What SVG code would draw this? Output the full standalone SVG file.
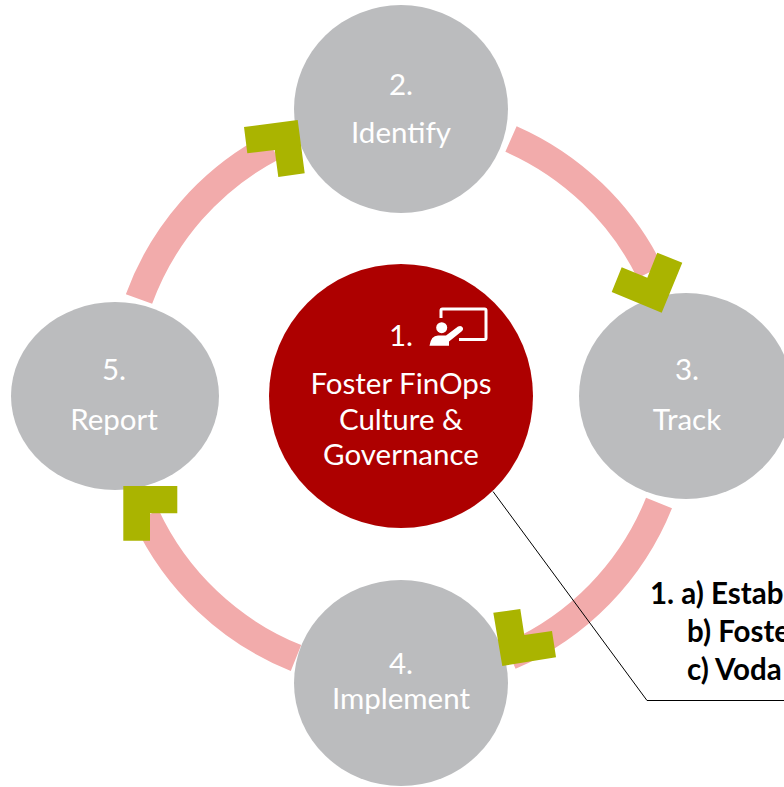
<svg xmlns="http://www.w3.org/2000/svg" width="784" height="787" viewBox="0 0 784 787">
<style>
.ring{fill:none;stroke:#F2ABAB;stroke-width:28}
.head{fill:#AAB400}
.gray{fill:#BBBCBE}
.t{font-family:"Lato","Open Sans",sans-serif;font-size:29.500px;fill:#fff;text-anchor:middle}
.b{font-family:"Lato","Open Sans",sans-serif;font-size:29.500px;font-weight:700;fill:#000}
</style>
<rect width="784" height="787" fill="#fff"/>
<g id="connectors">
<path class="ring" d="M511 139A281 281 0 0 1 650 272"/>
<path class="ring" d="M659 503A281 281 0 0 1 510 656"/>
<path class="ring" d="M296 658A281 281 0 0 1 146 516"/>
<path class="ring" d="M139 299A281 281 0 0 1 272 147"/>
</g>
<g id="node-2"><ellipse class="gray" cx="401" cy="109" rx="107" ry="104"/><text class="t" x="401" y="95">2.</text><text class="t" x="401" y="143">Identify</text></g>
<g id="node-3"><ellipse class="gray" cx="686" cy="396" rx="107" ry="103"/><text class="t" x="687" y="380">3.</text><text class="t" x="687" y="430">Track</text></g>
<g id="node-4"><ellipse class="gray" cx="401" cy="683" rx="107" ry="103"/><text class="t" x="401" y="674">4.</text><text class="t" x="401" y="709">Implement</text></g>
<g id="node-5"><ellipse class="gray" cx="115" cy="396" rx="104" ry="94"/><text class="t" x="114" y="380">5.</text><text class="t" x="114" y="430">Report</text></g>
<g id="node-1"><circle cx="401" cy="396" r="132" fill="#AD0000"/>
<text class="t" x="401" y="346">1.</text><text class="t" x="401" y="394">Foster FinOps</text><text class="t" x="401" y="430">Culture &amp;</text><text class="t" x="401" y="465">Governance</text>
<path d="M441 318V310.500Q441 309 442.500 309H484.500Q486 309 486 310.500V338Q486 339.500 484.500 339.500H459" fill="none" stroke="#fff" stroke-width="3"/>
<circle cx="441.700" cy="327.700" r="5.500" fill="#fff"/>
<path d="M429.500 345.700Q431 335.500 438 335.500H446L458 326.500Q461.500 325 463 328Q463.500 330 461.500 331.500L449 341.500V345.700Z" fill="#fff"/>
</g>
<g id="arrowheads">
<polygon class="head" points="244,127 297.700,120 304.700,173.300 278.300,177 274.700,150 247.300,153.300"/>
<polygon class="head" points="657.300,252.700 682.300,262.700 661.700,312.700 611.700,292 621.700,267.300 647.300,277.700"/>
<polygon class="head" points="493.300,612.700 520.300,609 524.300,635 552,631 556,657.300 502.300,666"/>
<polygon class="head" points="123.300,486 177.300,486 177.300,513.300 150,513.300 150,540.700 123.300,540.700"/>
</g>
<g id="callout">
<polyline points="493,491.500 647,700.500 784,700.500" fill="none" stroke="#000" stroke-width="1"/>
<text class="b" x="650" y="604">1. a) Estab</text>
<text class="b" x="687" y="642">b) Foste</text>
<text class="b" x="687" y="680">c) Voda</text>
</g>
</svg>
